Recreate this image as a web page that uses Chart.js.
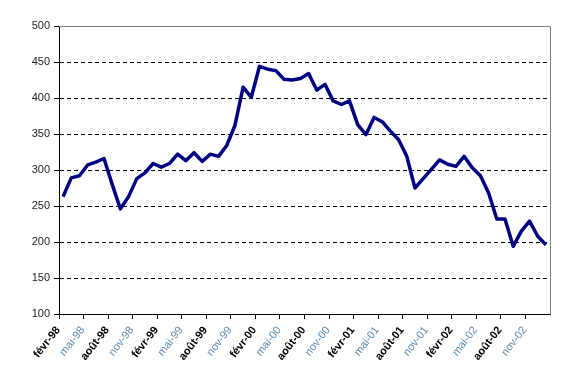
<!DOCTYPE html>
<html>
<head>
<meta charset="utf-8">
<script src="https://cdn.jsdelivr.net/npm/chart.js@4/dist/chart.umd.min.js"></script>
<style>
html,body{margin:0;padding:0;background:#fff;}
#c{display:block;}
</style>
</head>
<body>
<canvas id="c" width="566" height="384"></canvas>
<script>
// Categories: monthly, Feb 1998 to Jan 2003
const categories = [
  'févr-98','mars-98','avr-98','mai-98','juin-98','juil-98','août-98','sept-98','oct-98','nov-98','déc-98','janv-99',
  'févr-99','mars-99','avr-99','mai-99','juin-99','juil-99','août-99','sept-99','oct-99','nov-99','déc-99','janv-00',
  'févr-00','mars-00','avr-00','mai-00','juin-00','juil-00','août-00','sept-00','oct-00','nov-00','déc-00','janv-01',
  'févr-01','mars-01','avr-01','mai-01','juin-01','juil-01','août-01','sept-01','oct-01','nov-01','déc-01','janv-02',
  'févr-02','mars-02','avr-02','mai-02','juin-02','juil-02','août-02','sept-02','oct-02','nov-02','déc-02','janv-03'
];
const values = [
  263, 289, 292, 307, 311, 316, 280, 246, 263, 288, 296, 309,
  304, 309, 322, 313, 324, 312, 322, 319, 334, 362, 415, 401,
  444, 440, 438, 426, 425, 427, 434, 411, 419, 396, 391, 396,
  363, 349, 373, 367, 354, 342, 319, 275, 288, 301, 314, 308,
  305, 319, 303, 292, 268, 232, 232, 194, 215, 229, 208, 196
];
const yTicks = { min: 100, max: 500, step: 50 };
const labelEvery = 3;

const borderPlugin = {
  id: 'plotBorder',
  afterDraw(chart) {
    const a = chart.chartArea, ctx = chart.ctx;
    ctx.save();
    ctx.strokeStyle = '#808080';
    ctx.lineWidth = 1;
    ctx.beginPath();
    ctx.moveTo(a.left, a.top + 0.5);
    ctx.lineTo(a.right + 0.5, a.top + 0.5);
    ctx.lineTo(a.right + 0.5, a.bottom);
    ctx.stroke();
    ctx.restore();
  }
};

new Chart(document.getElementById('c'), {
  type: 'line',
  data: {
    labels: categories,
    datasets: [{
      data: values,
      borderColor: '#000080',
      borderWidth: 3.5,
      pointRadius: 0,
      tension: 0,
      fill: false,
      borderJoinStyle: 'round'
    }]
  },
  options: {
    responsive: false,
    animation: false,
    devicePixelRatio: 1,
    layout: { padding: { top: 26, right: 16, left: 0, bottom: 0 } },
    plugins: { legend: { display: false }, tooltip: { enabled: false } },
    scales: {
      x: {
        offset: true,
        afterFit(s) { s.height = 70; },
        grid: {
          offset: true,
          drawOnChartArea: false,
          tickLength: 5,
          color: (ctx) => (ctx.index !== undefined && ctx.index % labelEvery === 0) ? '#000' : 'rgba(0,0,0,0)',
          tickColor: (ctx) => (ctx.index !== undefined && ctx.index % labelEvery === 0) ? '#000' : 'rgba(0,0,0,0)'
        },
        border: { color: '#000', width: 1 },
        ticks: {
          autoSkip: false,
          minRotation: 52,
          maxRotation: 52,
          padding: 5,
          labelOffset: -5,
          callback: function(v, i) { return i % labelEvery === 0 ? this.getLabelForValue(v) : ''; },
          color: (ctx) => {
            const m = Math.floor(ctx.index / labelEvery) % 2;
            return m === 0 ? '#000' : '#5f86ad';
          },
          font: (ctx) => {
            const m = Math.floor(ctx.index / labelEvery) % 2;
            return { family: '"Liberation Sans", Arial, sans-serif', size: 11, weight: m === 0 ? 'bold' : 'normal' };
          }
        }
      },
      y: {
        min: yTicks.min,
        max: yTicks.max,
        afterFit(s) { s.width = 59; },
        ticks: {
          stepSize: yTicks.step,
          padding: 4,
          color: '#222',
          font: { family: '"Liberation Sans", Arial, sans-serif', size: 11 }
        },
        grid: {
          color: (ctx) => (ctx.tick && (ctx.tick.value === yTicks.max || ctx.tick.value === yTicks.min)) ? 'rgba(0,0,0,0)' : '#000',
          tickColor: '#000',
          tickLength: 5,
          lineWidth: 1
        },
        border: { color: '#000', width: 1, dash: [4, 3] }
      }
    }
  },
  plugins: [borderPlugin]
});
</script>
</body>
</html>
